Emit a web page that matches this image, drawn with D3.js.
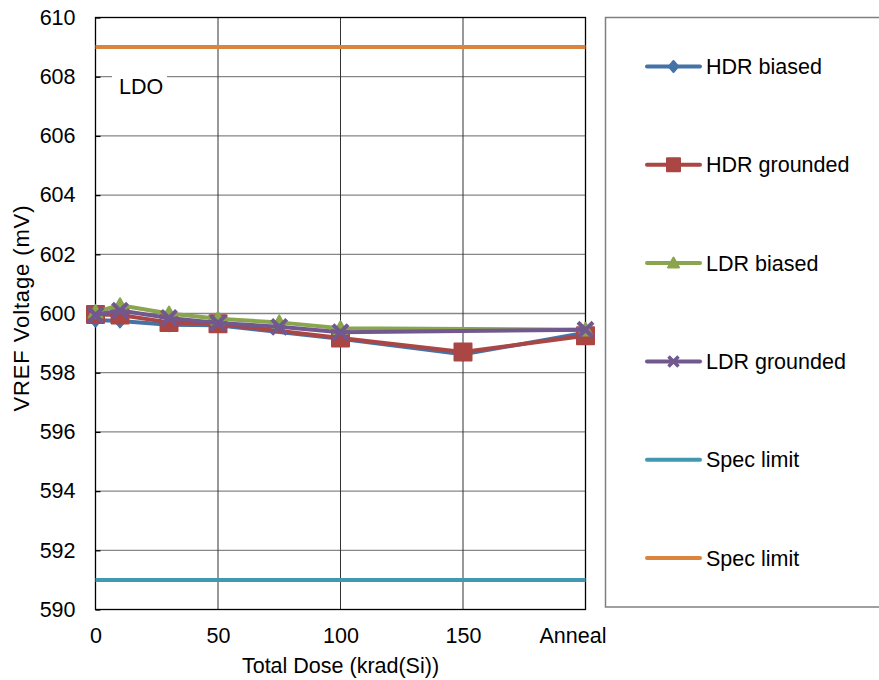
<!DOCTYPE html>
<html><head><meta charset="utf-8">
<script src="https://cdn.jsdelivr.net/npm/d3@7"></script>
<style>
html,body{margin:0;padding:0;background:#fff;}
text{font-family:"Liberation Sans",Arial,sans-serif;fill:#000;}
</style></head>
<body><svg id="c" width="879" height="680"></svg>
<script>
// ---- data ----
const doses = [0, 10, 30, 50, 75, 100, 150, 200];
const xTickValues = [0, 50, 100, 150, 200];
const xTickLabels = ["0", "50", "100", "150", "Anneal"];
const yTickValues = [590, 592, 594, 596, 598, 600, 602, 604, 606, 608, 610];
const hdrBiased   = [599.78, 599.75, 599.62, 599.6, null, 599.15, 598.62, 599.35];
const hdrGrounded = [599.97, 599.95, 599.7, 599.65, null, 599.17, 598.7, 599.25];
const ldrBiased   = [600.05, 600.28, 600.0, 599.82, 599.7, 599.5, null, 599.45];
const ldrGrounded = [599.95, 600.1, 599.85, 599.68, 599.55, 599.37, null, 599.45];
const specLow = 591;
const specHigh = 609;
const seriesNames = ["HDR biased", "HDR grounded", "LDR biased", "LDR grounded", "Spec limit", "Spec limit"];
const seriesColors = ["#4572A7", "#AA4643", "#89A54E", "#71588F", "#4198AF", "#DB843D"];
const seriesMarkers = ["diamond", "square", "triangle", "x", null, null];

// ---- layout ----
const svg = d3.select("#c");
const L = 95.5, R = 585.5, T = 17.5, B = 609.5;
const x = d3.scaleLinear().domain([0, 200]).range([L, R]);
const y = d3.scaleLinear().domain([590, 610]).range([B, T]);
const FS = 21.5;

// gridlines
svg.append("g").selectAll("line").data(yTickValues.filter(v => v > 590 && v < 610)).join("line")
  .attr("x1", L).attr("x2", R).attr("y1", d => y(d)).attr("y2", d => y(d))
  .attr("stroke", "#868686").attr("stroke-width", 1.3);
svg.append("g").selectAll("line").data(xTickValues.filter(v => v > 0 && v < 200)).join("line")
  .attr("x1", d => x(d)).attr("x2", d => x(d)).attr("y1", T).attr("y2", B)
  .attr("stroke", "#333").attr("stroke-width", 1);

// LDO label (white box behind)
svg.append("rect").attr("x", 112).attr("y", 66).attr("width", 55).attr("height", 36).attr("fill", "#fff");
svg.append("text").attr("x", 119).attr("y", 94).attr("font-size", FS).text("LDO");

// plot border
svg.append("rect").attr("x", L).attr("y", T).attr("width", R - L).attr("height", B - T)
  .attr("fill", "none").attr("stroke", "#000").attr("stroke-width", 1.3);

// axes
const yAxis = d3.axisLeft(y).tickValues(yTickValues).tickSize(-5).tickPadding(20).tickFormat(d3.format("d"));
const gy = svg.append("g").attr("transform", `translate(${L},0)`).call(yAxis);
gy.select(".domain").remove();
gy.selectAll(".tick line").attr("stroke", "#000").attr("stroke-width", 1.3);
gy.selectAll("text").attr("font-size", FS).attr("font-family", "Liberation Sans, Arial, sans-serif").attr("fill", "#000");

const xAxis = d3.axisBottom(x).tickValues(xTickValues).tickSize(0).tickPadding(18)
  .tickFormat((d, i) => xTickLabels[i]);
const gx = svg.append("g").attr("transform", `translate(0,${B})`).call(xAxis);
gx.select(".domain").remove();
gx.selectAll("text").attr("font-size", FS).attr("font-family", "Liberation Sans, Arial, sans-serif").attr("fill", "#000")
  .attr("dx", (d, i) => i === xTickLabels.length - 1 ? -13 : 0);

// axis titles
svg.append("text").attr("x", (L + R) / 2).attr("y", 673).attr("text-anchor", "middle").attr("font-size", FS)
  .text("Total Dose (krad(Si))");
svg.append("text").attr("transform", `translate(28.5,308.5) rotate(-90)`).attr("text-anchor", "middle")
  .attr("font-size", 22).attr("textLength", 206).attr("lengthAdjust", "spacing").text("VREF Voltage (mV)");

// marker paths
function markerPath(type, s) {
  if (type === "diamond") return `M0,${-s}L${s * 0.85},0L0,${s}L${-s * 0.85},0Z`;
  if (type === "square") return `M${-s},${-s}H${s}V${s}H${-s}Z`;
  if (type === "triangle") return `M0,${-s}L${s},${s * 0.8}L${-s},${s * 0.8}Z`;
  if (type === "x") return `M${-s},${-s}L${s},${s}M${s},${-s}L${-s},${s}`;
  return "";
}
const markerSize = {diamond: 6.5, square: 8.5, triangle: 7, x: 7.5};
const legendMarkerSize = {diamond: 5.5, square: 6.5, triangle: 5.5, x: 5};

const dataSeries = [hdrBiased, hdrGrounded, ldrBiased, ldrGrounded];
const line = d3.line().x(d => x(d[0])).y(d => y(d[1]));

dataSeries.forEach((vals, si) => {
  const pts = doses.map((d, i) => [d, vals[i]]).filter(p => p[1] !== null);
  const g = svg.append("g");
  g.append("path").attr("d", line(pts)).attr("fill", "none")
    .attr("stroke", seriesColors[si]).attr("stroke-width", 4).attr("stroke-linejoin", "round");
  const type = seriesMarkers[si];
  g.selectAll("path.m").data(pts).join("path").attr("class", "m")
    .attr("transform", d => `translate(${x(d[0])},${y(d[1])})`)
    .attr("d", markerPath(type, markerSize[type]))
    .attr("fill", type === "x" ? "none" : seriesColors[si])
    .attr("stroke", seriesColors[si])
    .attr("stroke-width", type === "x" ? 4 : 2)
    .attr("stroke-linejoin", "round");
});

// spec lines
[specLow, specHigh].forEach((v, k) => {
  svg.append("line").attr("x1", L).attr("x2", R).attr("y1", y(v)).attr("y2", y(v))
    .attr("stroke", seriesColors[4 + k]).attr("stroke-width", 4);
});

// legend
const lg = svg.append("g");
lg.append("rect").attr("x", 605.5).attr("y", 17.5).attr("width", 300).attr("height", 589.5)
  .attr("fill", "#fff").attr("stroke", "#808080").attr("stroke-width", 1.5);
const legendY = d3.scaleLinear().domain([0, 5]).range([66.5, 558]);
seriesNames.forEach((name, i) => {
  const yy = legendY(i);
  lg.append("line").attr("x1", 647).attr("x2", 700).attr("y1", yy).attr("y2", yy)
    .attr("stroke", seriesColors[i]).attr("stroke-width", 4).attr("stroke-linecap", "round");
  const type = seriesMarkers[i];
  if (type) {
    lg.append("path").attr("transform", `translate(673.5,${yy})`)
      .attr("d", markerPath(type, legendMarkerSize[type]))
      .attr("fill", type === "x" ? "none" : seriesColors[i])
      .attr("stroke", seriesColors[i]).attr("stroke-width", type === "x" ? 3.5 : 2)
      .attr("stroke-linejoin", "round");
  }
  lg.append("text").attr("x", 706).attr("y", yy + 7.5).attr("font-size", FS).text(name);
});
</script></body></html>
